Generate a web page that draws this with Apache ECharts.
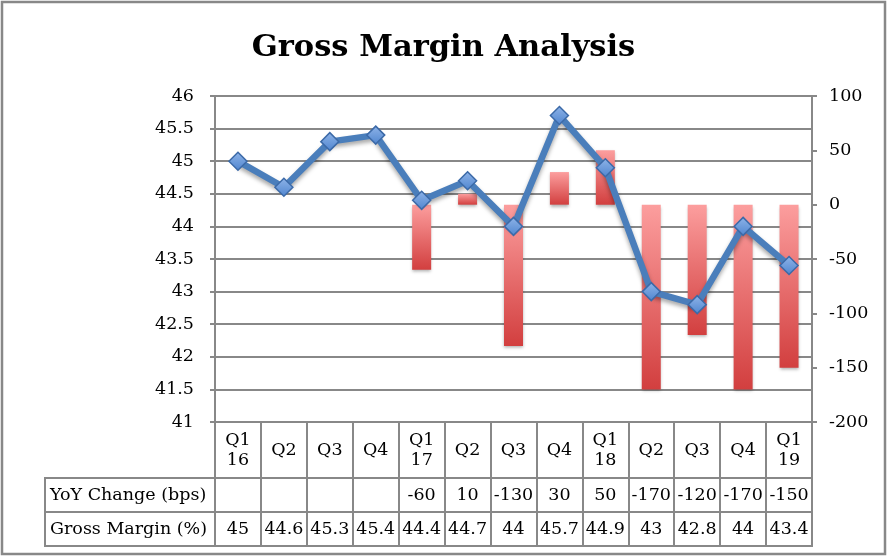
<!DOCTYPE html>
<html>
<head>
<meta charset="utf-8">
<title>Gross Margin Analysis</title>
<script src="https://cdn.jsdelivr.net/npm/echarts@6/dist/echarts.min.js"></script>
<style>
  html, body { margin: 0; padding: 0; background: #fff; }
  #chart { width: 887px; height: 558px; }
</style>
</head>
<body>
<div id="chart"></div>
<script>
// quarters, the year goes on a second line under Q1
var categories = ['Q1\n16', 'Q2', 'Q3', 'Q4', 'Q1\n17', 'Q2', 'Q3', 'Q4', 'Q1\n18', 'Q2', 'Q3', 'Q4', 'Q1\n19'];
var yoyChange = [null, null, null, null, -60, 10, -130, 30, 50, -170, -120, -170, -150];
var grossMargin = [45, 44.6, 45.3, 45.4, 44.4, 44.7, 44, 45.7, 44.9, 43, 42.8, 44, 43.4];
var rowNames = ['Gross Margin (%)', 'YoY Change (bps)'];

var LINE = '#888';
var FONT = 'DejaVu Serif';
var FS = 17.5;

function cellText(v) { return v == null ? '' : String(v); }
var yoyLabels = yoyChange.map(cellText);
var marginLabels = grossMargin.map(cellText);

// one row of the data table under the plot
function tableRow(grid, data, margin) {
    return {
        type: 'category',
        gridIndex: grid,
        data: data,
        position: 'bottom',
        axisLine: { show: false },
        axisTick: { show: false },
        splitLine: { show: true, interval: 0, lineStyle: { color: LINE, width: 2 } },
        axisLabel: {
            inside: true, interval: 0, margin: margin,
            verticalAlign: 'middle', lineHeight: 20,
            fontSize: FS, color: '#000', fontFamily: FONT
        }
    };
}

var chart = echarts.init(document.getElementById('chart'));

chart.setOption({
    animation: false,
    textStyle: { fontFamily: FONT },
    title: {
        text: 'Gross Margin Analysis',
        left: 'center',
        top: 28,
        textStyle: { fontFamily: FONT, fontWeight: 'bold', fontSize: 30.5, color: '#000' }
    },
    graphic: [{
        type: 'rect',
        shape: { x: 2, y: 2, width: 883, height: 552 },
        style: { fill: 'none', stroke: LINE, lineWidth: 2.5 },
        silent: true
    }],
    grid: [
        { left: 215, top: 96, width: 597, height: 326 },
        { left: 215, top: 422, width: 597, height: 56, show: true, borderColor: LINE, borderWidth: 2 },
        { left: 215, top: 478, width: 597, height: 34, show: true, borderColor: LINE, borderWidth: 2 },
        { left: 215, top: 512, width: 597, height: 34, show: true, borderColor: LINE, borderWidth: 2 },
        { left: 45, top: 478, width: 170, height: 68, show: true, borderColor: LINE, borderWidth: 2 }
    ],
    xAxis: [
        {
            type: 'category',
            gridIndex: 0,
            data: categories,
            axisLine: { onZero: false, lineStyle: { color: LINE, width: 2 } },
            axisTick: { show: false },
            axisLabel: { show: false }
        },
        tableRow(1, categories, 28),
        tableRow(2, yoyLabels, 17),
        tableRow(3, marginLabels, 17),
        { type: 'value', gridIndex: 4, show: false }
    ],
    yAxis: [
        {
            type: 'value',
            gridIndex: 0,
            min: 41, max: 46, interval: 0.5,
            axisLine: { show: true, lineStyle: { color: LINE, width: 2 } },
            axisTick: { show: true, length: 5, lineStyle: { color: LINE, width: 2 } },
            splitLine: { lineStyle: { color: LINE, width: 2 } },
            axisLabel: { fontSize: FS, color: '#000', margin: 21 }
        },
        {
            type: 'value',
            gridIndex: 0,
            position: 'right',
            min: -200, max: 100, interval: 50,
            axisLine: { show: true, lineStyle: { color: LINE, width: 2 } },
            axisTick: { show: true, length: 5, lineStyle: { color: LINE, width: 2 } },
            splitLine: { show: false },
            axisLabel: { fontSize: FS, color: '#000', margin: 17 }
        },
        { type: 'value', gridIndex: 1, show: false },
        { type: 'value', gridIndex: 2, show: false },
        { type: 'value', gridIndex: 3, show: false },
        {
            type: 'category',
            gridIndex: 4,
            data: rowNames,
            axisLine: { show: false },
            axisTick: { show: false },
            splitLine: { show: true, interval: 0, lineStyle: { color: LINE, width: 2 } },
            axisLabel: { inside: true, margin: 5, align: 'left', fontSize: FS, color: '#000' }
        }
    ],
    series: [
        {
            name: 'YoY Change (bps)',
            type: 'bar',
            xAxisIndex: 0,
            yAxisIndex: 1,
            data: yoyChange,
            barWidth: 19,
            itemStyle: {
                color: new echarts.graphic.LinearGradient(0, 0, 0, 1, [
                    { offset: 0, color: '#fc9e9e' },
                    { offset: 1, color: '#d23f3f' }
                ]),
                shadowColor: 'rgba(0,0,0,0.3)',
                shadowBlur: 3,
                shadowOffsetY: 2
            },
            z: 2
        },
        {
            name: 'Gross Margin (%)',
            type: 'line',
            xAxisIndex: 0,
            yAxisIndex: 0,
            data: grossMargin,
            symbol: 'diamond',
            symbolSize: 18,
            lineStyle: {
                color: '#4a7ebb',
                width: 6.5,
                shadowColor: 'rgba(0,0,0,0.35)',
                shadowBlur: 4,
                shadowOffsetY: 3
            },
            itemStyle: {
                color: new echarts.graphic.LinearGradient(0, 0, 0, 1, [
                    { offset: 0, color: '#8fb4e8' },
                    { offset: 1, color: '#4f85cf' }
                ]),
                borderColor: '#3c6aa8',
                borderWidth: 1.5
            },
            z: 3
        }
    ]
});
</script>
</body>
</html>
